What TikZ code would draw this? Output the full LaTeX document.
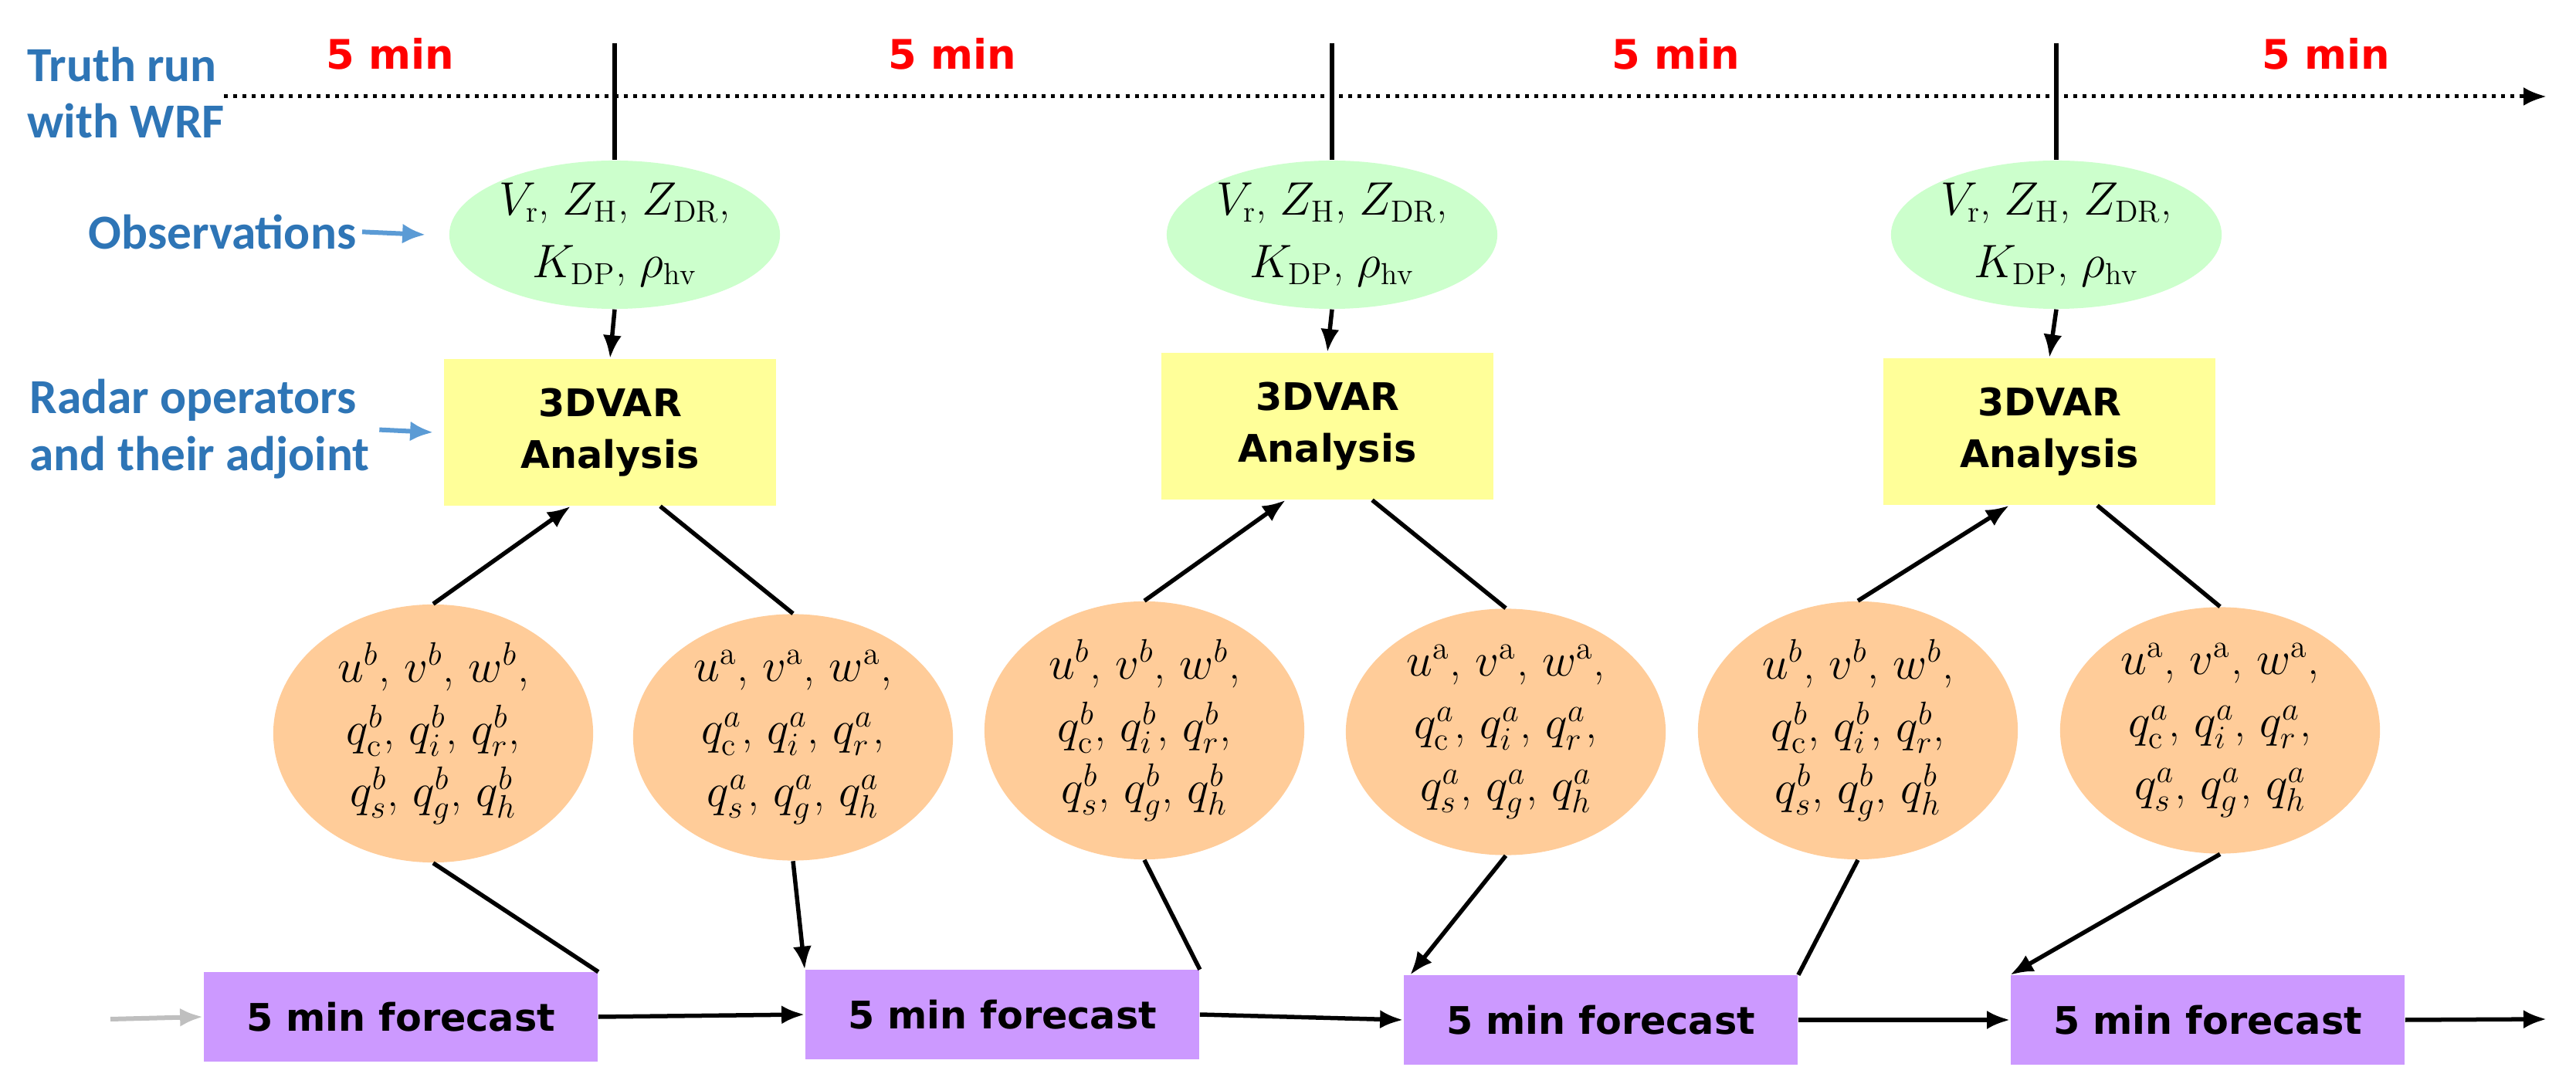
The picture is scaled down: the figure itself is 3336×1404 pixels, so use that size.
\documentclass[tikz,border=0pt]{standalone}
\usepackage{fontspec}
\newfontfamily\dejavu{DejaVu Sans}
\newfontfamily\carlito{Carlito}
\usetikzlibrary{shapes.geometric,positioning,arrows.meta}

\definecolor{labelblue}{HTML}{2E75B6}
\definecolor{arrowblue}{HTML}{5B9BD5}
\definecolor{obsgreen}{HTML}{CCFFCC}
\definecolor{anayellow}{HTML}{FFFF99}
\definecolor{stateorange}{HTML}{FFCC99}
\definecolor{fcpurple}{HTML}{CC99FF}

\begin{document}
\begin{tikzpicture}[x=0.01cm, y=-0.01cm,
label/.style={font=\carlito\bfseries\fontsize{18}{21}\selectfont, text=labelblue, align=left, inner sep=0pt},
time/.style={font=\dejavu\bfseries\fontsize{15}{18}\selectfont, text=red},
obs/.style={ellipse, fill=obsgreen, minimum width=4.28cm, minimum height=1.92cm, inner sep=0pt, align=center, font=\fontsize{16}{23}\selectfont},
analysis/.style={rectangle, fill=anayellow, minimum width=4.3cm, minimum height=1.9cm, align=center, font=\dejavu\bfseries\fontsize{14}{19}\selectfont},
state/.style={ellipse, fill=stateorange, minimum width=4.14cm, minimum height=3.05cm, inner sep=0pt, align=center, font=\fontsize{17}{23}\selectfont},
forecast/.style={rectangle, fill=fcpurple, minimum width=5.1cm, minimum height=1.15cm, font=\dejavu\bfseries\fontsize{14}{17}\selectfont},
arrow/.style={-{Latex[length=3mm,width=2.4mm]}, line width=0.55mm},
line/.style={line width=0.55mm},
bluearrow/.style={-{Latex[length=3mm,width=2.6mm]}, line width=0.6mm, arrowblue},
]
\useasboundingbox (0,0) rectangle (3336,1404);

% labels on the left
\node[label, anchor=west] (truth) at (35,120) {Truth run\\with WRF};
\node[label, anchor=east] (obslab) at (462,300) {Observations};
\node[label, anchor=west] (radar) at (38,556) {Radar operators\\and their adjoint};

% time line
\coordinate (tstart) at (290,125);
\coordinate (tend) at (3298,125);
\draw[dotted, line width=0.5mm, -{Latex[length=3mm,width=2.4mm]}] (tstart) -- (tend);
\node[time] (t1) at (505,70) {5 min};
\node[time] (t2) at (1233,70) {5 min};
\node[time] (t3) at (2170,70) {5 min};
\node[time] (t4) at (3012,70) {5 min};

% observations
\node[obs] (ob1) at (796,304) {$V_{\mathrm r}$, $Z_{\mathrm H}$, $Z_{\mathrm{DR}}$,\\ $K_{\mathrm{DP}}$, $\rho_{\mathrm{hv}}$};
\node[obs] (ob2) at (1725,304) {$V_{\mathrm r}$, $Z_{\mathrm H}$, $Z_{\mathrm{DR}}$,\\ $K_{\mathrm{DP}}$, $\rho_{\mathrm{hv}}$};
\node[obs] (ob3) at (2663,304) {$V_{\mathrm r}$, $Z_{\mathrm H}$, $Z_{\mathrm{DR}}$,\\ $K_{\mathrm{DP}}$, $\rho_{\mathrm{hv}}$};
\coordinate (c1) at (796,56);
\coordinate (c2) at (1725,56);
\coordinate (c3) at (2663,56);

% analyses
\node[analysis] (ana1) at (790,560) {3DVAR\\Analysis};
\node[analysis] (ana2) at (1719,552) {3DVAR\\Analysis};
\node[analysis] (ana3) at (2654,559) {3DVAR\\Analysis};

% background and analysis states
\node[state] (bg1) at (561,950) {$u^b$,\ $v^b$,\ $w^b$,\\ $q_{\mathrm c}^b$,\ $q_i^b$,\ $q_r^b$,\\ $q_s^b$,\ $q_g^b$,\ $q_h^b$};
\node[state] (an1) at (1027,955) {$u^{\mathrm a}$,\ $v^{\mathrm a}$,\ $w^{\mathrm a}$,\\ $q_{\mathrm c}^a$,\ $q_i^a$,\ $q_r^a$,\\ $q_s^a$,\ $q_g^a$,\ $q_h^a$};
\node[state] (bg2) at (1482,946) {$u^b$,\ $v^b$,\ $w^b$,\\ $q_{\mathrm c}^b$,\ $q_i^b$,\ $q_r^b$,\\ $q_s^b$,\ $q_g^b$,\ $q_h^b$};
\node[state] (an2) at (1950,948) {$u^{\mathrm a}$,\ $v^{\mathrm a}$,\ $w^{\mathrm a}$,\\ $q_{\mathrm c}^a$,\ $q_i^a$,\ $q_r^a$,\\ $q_s^a$,\ $q_g^a$,\ $q_h^a$};
\node[state] (bg3) at (2406,946) {$u^b$,\ $v^b$,\ $w^b$,\\ $q_{\mathrm c}^b$,\ $q_i^b$,\ $q_r^b$,\\ $q_s^b$,\ $q_g^b$,\ $q_h^b$};
\node[state] (an3) at (2875,946) {$u^{\mathrm a}$,\ $v^{\mathrm a}$,\ $w^{\mathrm a}$,\\ $q_{\mathrm c}^a$,\ $q_i^a$,\ $q_r^a$,\\ $q_s^a$,\ $q_g^a$,\ $q_h^a$};

% forecasts
\node[forecast] (fc1) at (519,1317) {5 min forecast};
\node[forecast] (fc2) at (1298,1314) {5 min forecast};
\node[forecast] (fc3) at (2073,1321) {5 min forecast};
\node[forecast] (fc4) at (2859,1321) {5 min forecast};
\coordinate (fin) at (143,1320);
\coordinate (fout) at (3298,1320);

% connectors
\draw[bluearrow, shorten <=2pt] (obslab.east) -- ([xshift=-0.3cm]ob1.west);
\draw[bluearrow, shorten <=0.12cm] (radar.east) -- ([xshift=-0.13cm]ana1.west);

\draw[line] (c1) -- (ob1.north);
\draw[line] (c2) -- (ob2.north);
\draw[line] (c3) -- (ob3.north);
\draw[arrow] (ob1.south) -- (ana1.north);
\draw[arrow] (ob2.south) -- (ana2.north);
\draw[arrow] (ob3.south) -- (ana3.north);

\draw[arrow] (bg1.north) -- ([xshift=-0.51cm]ana1.south);
\draw[arrow] (bg2.north) -- ([xshift=-0.54cm]ana2.south);
\draw[arrow] (bg3.north) -- ([xshift=-0.52cm]ana3.south);
\draw[line] ([xshift=0.65cm]ana1.south) -- (an1.north);
\draw[line] ([xshift=0.58cm]ana2.south) -- (an2.north);
\draw[line] ([xshift=0.62cm]ana3.south) -- (an3.north);

\draw[line] (bg1.south) -- (fc1.north east);
\draw[line] (bg2.south) -- (fc2.north east);
\draw[line] (bg3.south) -- (fc3.north east);
\draw[arrow] (an1.south) -- (fc2.north west);
\draw[arrow] (an2.south) -- ([xshift=0.09cm]fc3.north west);
\draw[arrow] (an3.south) -- (fc4.north west);

\draw[arrow, gray!50, line width=0.6mm] (fin) -- (fc1.west);
\draw[arrow] (fc1.east) -- (fc2.west);
\draw[arrow] (fc2.east) -- (fc3.west);
\draw[arrow] (fc3.east) -- (fc4.west);
\draw[arrow] (fc4.east) -- (fout);

\end{tikzpicture}
\end{document}
